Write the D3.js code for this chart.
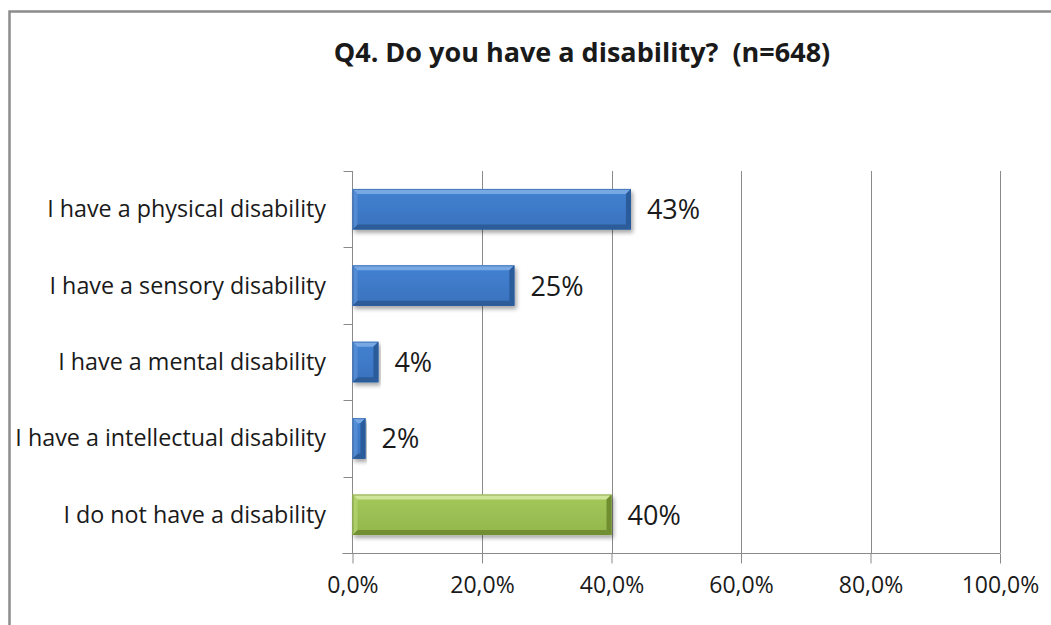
<!DOCTYPE html>
<html>
<head>
<meta charset="utf-8">
<script src="https://cdn.jsdelivr.net/npm/d3@7/dist/d3.min.js"></script>
<style>
  html, body { margin: 0; padding: 0; background: #ffffff; }
  svg { display: block; }
  text { font-family: "Open Sans", "DejaVu Sans", sans-serif; fill: #1a1a1a; }
</style>
</head>
<body>
<svg id="chart" width="1051" height="625"></svg>
<script>
// Survey responses, percent of respondents
const categories = [
  "I have a physical disability",
  "I have a sensory disability",
  "I have a mental disability",
  "I have a intellectual disability",
  "I do not have a disability"
];
const values = [43, 25, 4, 2, 40];
const groups = ["disabled", "disabled", "disabled", "disabled", "none"];
const xTicks = [0, 20, 40, 60, 80, 100];
const title = "Q4. Do you have a disability?  (n=648)";

const svg = d3.select("#chart");
const W = 1051, H = 625;

// outer frame (top and left edges visible)
svg.append("path")
  .attr("d", `M9.5,${H} L9.5,11.5 L${W},11.5`)
  .attr("fill", "none")
  .attr("stroke", "#8c8c8c")
  .attr("stroke-width", 2.5);

svg.append("text")
  .attr("x", 582)
  .attr("y", 62)
  .attr("text-anchor", "middle")
  .style("white-space", "pre")
  .attr("font-size", 27)
  .attr("font-weight", 700)
  .text(title);

const plot = { left: 352.5, right: 1000, top: 171, bottom: 553 };

const x = d3.scaleLinear().domain([0, 100]).range([plot.left, plot.right]);
const y = d3.scaleBand().domain(categories).range([plot.top, plot.bottom])
  .paddingInner(0.47).paddingOuter(0.235);

const gridColor = "#8a8a8a";

// vertical gridlines
svg.append("g")
  .selectAll("line")
  .data(xTicks.filter(d => d > 0))
  .join("line")
  .attr("x1", d => Math.round(x(d)) + 0.5)
  .attr("x2", d => Math.round(x(d)) + 0.5)
  .attr("y1", plot.top)
  .attr("y2", plot.bottom)
  .attr("stroke", gridColor)
  .attr("stroke-width", 1);

// bottom axis
const xAxis = d3.axisBottom(x)
  .tickValues(xTicks)
  .tickSize(10)
  .tickPadding(10)
  .tickFormat(d => d3.format(".1f")(d).replace(".", ",") + "%");
const gx = svg.append("g")
  .attr("transform", `translate(0,${plot.bottom + 0.5})`)
  .call(xAxis);
gx.select(".domain").remove();
gx.append("line")
  .attr("x1", plot.left - 10).attr("x2", plot.right)
  .attr("y1", 0).attr("y2", 0)
  .attr("stroke", gridColor);
gx.selectAll(".tick line").attr("stroke", gridColor);
gx.selectAll(".tick text")
  .attr("font-family", "Open Sans, sans-serif")
  .attr("font-size", 23)
  .attr("fill", "#1a1a1a")
  .attr("dy", "0.85em");

// left axis with ticks on band boundaries
const boundaries = categories.map(c => y(c) - y.step() * y.paddingInner() / 2)
  .concat([plot.bottom]);
const gy = svg.append("g");
gy.append("line")
  .attr("x1", plot.left).attr("x2", plot.left)
  .attr("y1", plot.top).attr("y2", plot.bottom)
  .attr("stroke", gridColor);
gy.selectAll("line.tk")
  .data(boundaries)
  .join("line")
  .attr("class", "tk")
  .attr("x1", plot.left - 9).attr("x2", plot.left)
  .attr("y1", d => Math.round(d) + 0.5).attr("y2", d => Math.round(d) + 0.5)
  .attr("stroke", gridColor);

gy.selectAll("text.cat")
  .data(categories)
  .join("text")
  .attr("class", "cat")
  .attr("x", 326)
  .attr("y", d => y(d) + y.bandwidth() / 2 + 8)
  .attr("text-anchor", "end")
  .attr("font-size", 23.3)
  .text(d => d);

// bevelled bar palettes
const palettes = {
  disabled: { top: "#78a8e4", upper: "#4282d2", lower: "#3a72bd", left: "#5b93d8", right: "#2b5b9c", bottom: "#2d5b98" },
  none:     { top: "#cfe69a", upper: "#a4c85a", lower: "#93b64c", left: "#b5d672", right: "#6f8d30", bottom: "#718f33" }
};

const defs = svg.append("defs");
const shadow = defs.append("filter").attr("id", "barShadow")
  .attr("x", "-5%").attr("y", "-20%").attr("width", "115%").attr("height", "160%");
shadow.append("feGaussianBlur").attr("in", "SourceAlpha").attr("stdDeviation", 2.2).attr("result", "b");
shadow.append("feOffset").attr("in", "b").attr("dx", 2).attr("dy", 3).attr("result", "o");
shadow.append("feComponentTransfer").attr("in", "o").attr("result", "s")
  .append("feFuncA").attr("type", "linear").attr("slope", 0.35);
const merge = shadow.append("feMerge");
merge.append("feMergeNode").attr("in", "s");
merge.append("feMergeNode").attr("in", "SourceGraphic");

Object.entries(palettes).forEach(([key, p]) => {
  const g = defs.append("linearGradient").attr("id", "face-" + key)
    .attr("x1", 0).attr("y1", 0).attr("x2", 0).attr("y2", 1);
  g.append("stop").attr("offset", "0%").attr("stop-color", p.upper);
  g.append("stop").attr("offset", "100%").attr("stop-color", p.lower);
});

const bars = svg.append("g")
  .selectAll("g.bar")
  .data(categories.map((c, i) => ({ c, v: values[i], grp: groups[i] })))
  .join("g")
  .attr("class", "bar")
  .attr("filter", "url(#barShadow)");

bars.each(function(d) {
  const g = d3.select(this);
  const p = palettes[d.grp];
  const x0 = x(0), x1 = x(d.v);
  const y0 = y(d.c), y1 = y(d.c) + y.bandwidth();
  const bw = Math.min(5, (x1 - x0) / 2);
  const bh = 5;
  g.append("rect")
    .attr("x", x0).attr("y", y0)
    .attr("width", x1 - x0).attr("height", y1 - y0)
    .attr("fill", `url(#face-${d.grp})`);
  // top bevel
  g.append("path")
    .attr("d", `M${x0},${y0} L${x1},${y0} L${x1 - bw},${y0 + bh} L${x0 + bw},${y0 + bh} Z`)
    .attr("fill", p.top);
  // bottom bevel
  g.append("path")
    .attr("d", `M${x0},${y1} L${x1},${y1} L${x1 - bw},${y1 - bh} L${x0 + bw},${y1 - bh} Z`)
    .attr("fill", p.bottom);
  // left bevel
  g.append("path")
    .attr("d", `M${x0},${y0} L${x0 + bw},${y0 + bh} L${x0 + bw},${y1 - bh} L${x0},${y1} Z`)
    .attr("fill", p.left).attr("opacity", 0.7);
  // right bevel
  g.append("path")
    .attr("d", `M${x1},${y0} L${x1 - bw},${y0 + bh} L${x1 - bw},${y1 - bh} L${x1},${y1} Z`)
    .attr("fill", p.right);
  // thin outline
  g.append("rect")
    .attr("x", x0 + 0.5).attr("y", y0 + 0.5)
    .attr("width", Math.max(0, x1 - x0 - 1)).attr("height", y1 - y0 - 1)
    .attr("fill", "none")
    .attr("stroke", p.right).attr("stroke-opacity", 0.6);
});

// value labels
svg.append("g")
  .selectAll("text")
  .data(categories.map((c, i) => ({ c, v: values[i] })))
  .join("text")
  .attr("x", d => x(d.v) + 16)
  .attr("y", d => y(d.c) + y.bandwidth() / 2 + 10)
  .attr("font-size", 27)
  .text(d => d.v + "%");
</script>
</body>
</html>
